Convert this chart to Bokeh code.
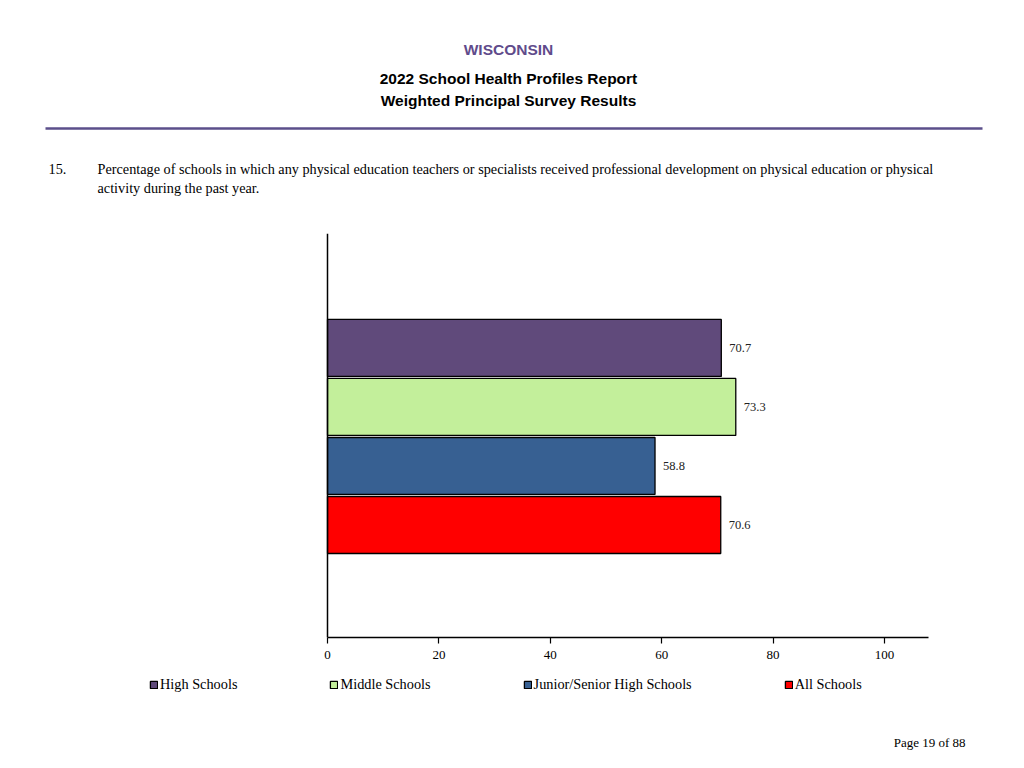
from bokeh.plotting import figure
from bokeh.layouts import column
from bokeh.models import (Range1d, FixedTicker, Label, BoxAnnotation, Legend, LegendItem,
                          ColumnDataSource, Span)
from bokeh.core.properties import value
from bokeh.embed import file_html
from bokeh.resources import INLINE

# ---- data ----
categories = ["High Schools", "Middle Schools", "Junior/Senior High Schools", "All Schools"]
values = [70.7, 73.3, 58.8, 70.6]
colors = ["#604a7b", "#c3ef9b", "#376092", "#ff0000"]
x_ticks = [0, 20, 40, 60, 80, 100]
x_max = 107.9

header_state = "WISCONSIN"
header_lines = ["2022 School Health Profiles Report", "Weighted Principal Survey Results"]
question_num = "15."
question_lines = [
    "Percentage of schools in which any physical education teachers or specialists received professional development on physical education or physical",
    "activity during the past year.",
]
footer = "Page 19 of 88"

SERIF = "Liberation Serif"
SANS = "Liberation Sans"
W = 1016
TOP_H, MAIN_H, BOT_H = 215, 453, 92

# layout of the chart area in pixels
AXIS_LEFT_PX = 327      # where 0 sits
PX_PER_UNIT = 5.57      # horizontal scale

def blank(h, y0):
    f = figure(width=W, height=h, output_backend="svg", toolbar_location=None,
               x_range=Range1d(0, W), y_range=Range1d(y0 + h, y0),
               x_axis_location=None, y_axis_location=None,
               min_border=0, min_border_left=0, min_border_right=0,
               min_border_top=0, min_border_bottom=0)
    f.outline_line_color = None
    f.xgrid.visible = False
    f.ygrid.visible = False
    return f

# ---- header figure (pixel coordinates) ----
top = blank(TOP_H, 0)
top.add_layout(Label(x=508, y=49, text=header_state, text_font=SANS, text_font_style="bold",
                     text_font_size="15.5px", text_color="#5f4b8b", text_align="center",
                     text_baseline="middle"))
for txt, py in zip(header_lines, [78, 100]):
    top.add_layout(Label(x=508, y=py, text=txt, text_font=SANS, text_font_style="bold",
                         text_font_size="15.5px", text_color="black", text_align="center",
                         text_baseline="middle"))
top.add_layout(BoxAnnotation(left=45, right=982, bottom=129.2, top=126.8,
                             fill_color="#5b4f8b", fill_alpha=1, line_color=None))
top.add_layout(Label(x=48, y=168, text=question_num, text_font=SERIF, text_font_size="14.25px",
                     text_color="black", text_align="left", text_baseline="middle"))
for txt, py in zip(question_lines, [168, 187]):
    top.add_layout(Label(x=97, y=py, text=txt, text_font=SERIF, text_font_size="14.25px",
                         text_color="black", text_align="left", text_baseline="middle"))

# ---- main chart ----
n = len(categories)
ypos = [n - i for i in range(n)]

x_start = -AXIS_LEFT_PX / PX_PER_UNIT
x_end = (W - AXIS_LEFT_PX) / PX_PER_UNIT

p = figure(width=W, height=MAIN_H, output_backend="svg", toolbar_location=None,
           x_range=Range1d(x_start, x_end), y_range=Range1d(-0.907, 5.94),
           y_axis_location=None,
           min_border_left=0, min_border_right=0, min_border_top=18, min_border_bottom=31)
p.outline_line_color = None
p.xgrid.visible = False
p.ygrid.visible = False

for i in range(n):
    src = ColumnDataSource(dict(y=[ypos[i]], right=[values[i]]))
    p.hbar(y="y", left=0, right="right", height=0.966, source=src,
           fill_color=colors[i], line_color="black", line_width=1.3)

lab_src = ColumnDataSource(dict(x=values, y=ypos, t=["%.1f" % v for v in values]))
p.text(x="x", y="y", text="t", source=lab_src, x_offset=8, text_baseline="middle",
       text_align="left", text_font=value(SERIF), text_font_size="12.5px", text_color="#222222")

xa = p.xaxis[0]
xa.ticker = FixedTicker(ticks=x_ticks)
xa.bounds = (0, x_max)
xa.minor_tick_line_color = None
xa.major_tick_out = 6
xa.major_tick_in = 0
xa.axis_line_width = 1.5
xa.major_tick_line_width = 1.2
xa.major_label_standoff = 7
xa.major_label_text_font = SERIF
xa.major_label_text_font_size = "13px"
xa.major_label_text_color = "black"

# value axis baseline (vertical line at 0)
p.add_layout(Span(location=0, dimension="height", line_color="black", line_width=1.5))

# ---- bottom figure: legend + footer ----
bot = blank(BOT_H, MAIN_H + TOP_H)
items = []
for i in range(n):
    # hidden copy of each bar series, used only for its legend swatch
    src = ColumnDataSource(dict(y=[ypos[i]], right=[values[i]]))
    r = bot.hbar(y="y", left=0, right="right", height=0.966, source=src,
                 fill_color=colors[i], line_color="black", line_width=1.3)
    r.visible = False
    items.append(LegendItem(label=categories[i], renderers=[r]))

legend = Legend(items=items, orientation="horizontal",
                location=(149, (TOP_H + MAIN_H + BOT_H) - 693),
                spacing=92, glyph_width=9, glyph_height=9, label_standoff=2,
                padding=0, margin=0, label_height=16,
                label_text_font=SERIF, label_text_font_size="14.3px", label_text_color="black",
                inactive_fill_alpha=0, click_policy="none",
                border_line_color=None, background_fill_alpha=0)
bot.add_layout(legend, "center")

bot.add_layout(Label(x=965, y=742, text=footer, text_font=SERIF, text_font_size="13px",
                     text_color="black", text_align="right", text_baseline="middle"))

layout = column(top, p, bot, spacing=0)
open("out.html", "w").write(file_html(layout, INLINE))
